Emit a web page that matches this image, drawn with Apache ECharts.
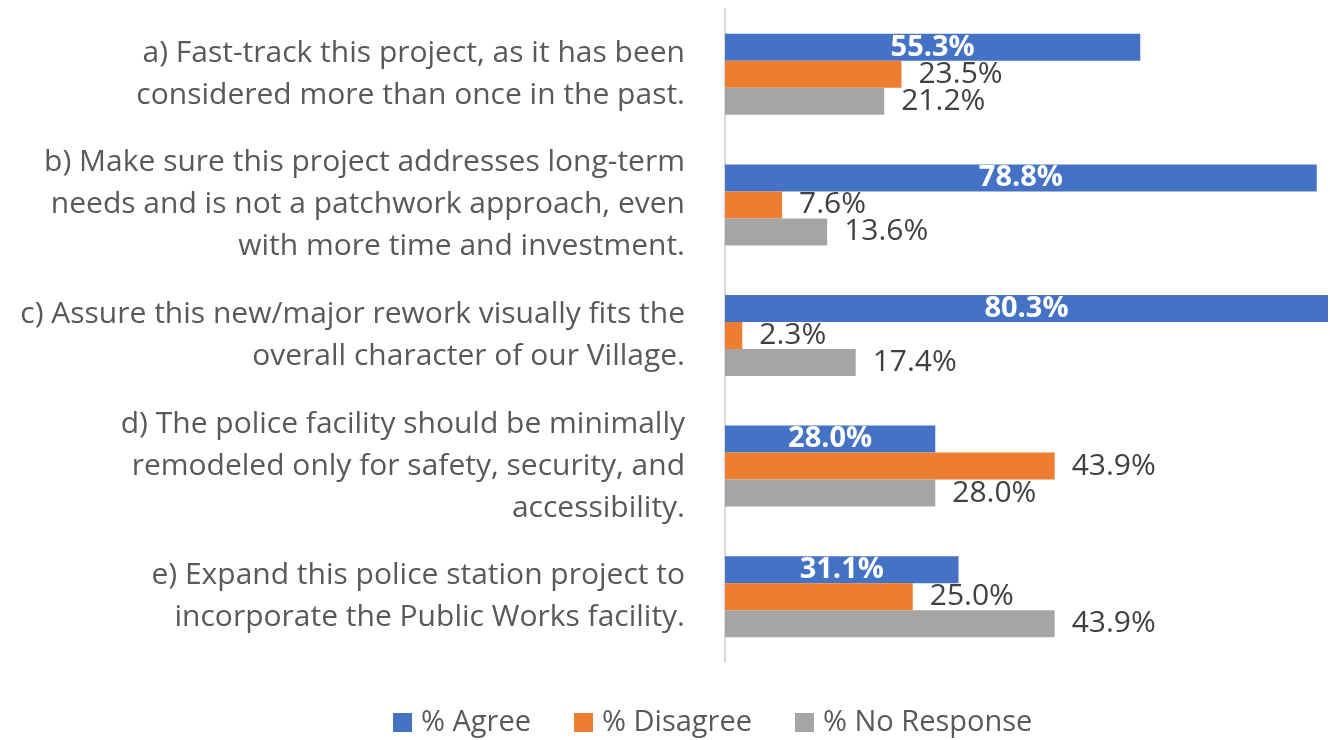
<!DOCTYPE html>
<html>
<head>
<meta charset="utf-8">
<script src="https://cdn.jsdelivr.net/npm/echarts@6/dist/echarts.min.js"></script>
<style>
  html, body { margin: 0; padding: 0; background: #fff; }
  #chart { width: 1330px; height: 740px; }
</style>
</head>
<body>
<div id="chart"></div>
<script>
// survey statements (top to bottom)
var categories = [
    'a) Fast-track this project, as it has been\nconsidered more than once in the past.',
    'b) Make sure this project addresses long-term\nneeds and is not a patchwork approach, even\nwith more time and investment.',
    'c) Assure this new/major rework visually fits the\noverall character of our Village.',
    'd) The police facility should be minimally\nremodeled only for safety, security, and\naccessibility.',
    'e) Expand this police station project to\nincorporate the Public Works facility.'
];
var seriesNames = ['% Agree', '% Disagree', '% No Response'];
var agree = [55.3, 78.8, 80.3, 28.0, 31.1];
var disagree = [23.5, 7.6, 2.3, 43.9, 25.0];
var noResponse = [21.2, 13.6, 17.4, 28.0, 43.9];

var FONT = 'Open Sans';
var myChart = echarts.init(document.getElementById('chart'));

function pct(p) {
    return p.value.toFixed(1) + '%';
}

var option = {
    animation: false,
    textStyle: { fontFamily: FONT },
    color: ['#4472C4', '#ED7D31', '#A5A5A5'],
    grid: { left: 725, right: 2, top: 9, bottom: 78, containLabel: false },
    legend: {
        data: seriesNames,
        top: 703,
        left: 388,
        icon: 'rect',
        itemWidth: 19,
        itemHeight: 19,
        itemGap: 43,
        itemStyle: { borderWidth: 0 },
        textStyle: { fontSize: 29, color: '#595959', fontFamily: FONT, padding: [0, 0, 0, 4] }
    },
    xAxis: {
        type: 'value',
        min: 0,
        max: 80.3,
        show: false
    },
    yAxis: {
        type: 'category',
        inverse: true,
        data: categories,
        axisLine: { show: true, lineStyle: { color: '#D9D9D9', width: 2 } },
        axisTick: { show: false },
        axisLabel: {
            margin: 40,
            fontSize: 30,
            lineHeight: 42,
            color: '#595959',
            align: 'right',
            fontFamily: FONT
        }
    },
    series: [{
        name: seriesNames[0],
        type: 'bar',
        data: agree,
        barGap: '0%',
        barCategoryGap: '38%',
        label: {
            show: true,
            position: 'inside',
            formatter: pct,
            color: '#fff',
            fontWeight: 'bold',
            fontSize: 29,
            fontFamily: FONT
        }
    }, {
        name: seriesNames[1],
        type: 'bar',
        data: disagree,
        barGap: '0%',
        barCategoryGap: '38%',
        label: {
            show: true,
            position: 'right',
            distance: 17,
            formatter: pct,
            color: '#404040',
            fontSize: 30,
            fontFamily: FONT
        }
    }, {
        name: seriesNames[2],
        type: 'bar',
        data: noResponse,
        barGap: '0%',
        barCategoryGap: '38%',
        label: {
            show: true,
            position: 'right',
            distance: 17,
            formatter: pct,
            color: '#404040',
            fontSize: 30,
            fontFamily: FONT
        }
    }]
};
myChart.setOption(option);
</script>
</body>
</html>
